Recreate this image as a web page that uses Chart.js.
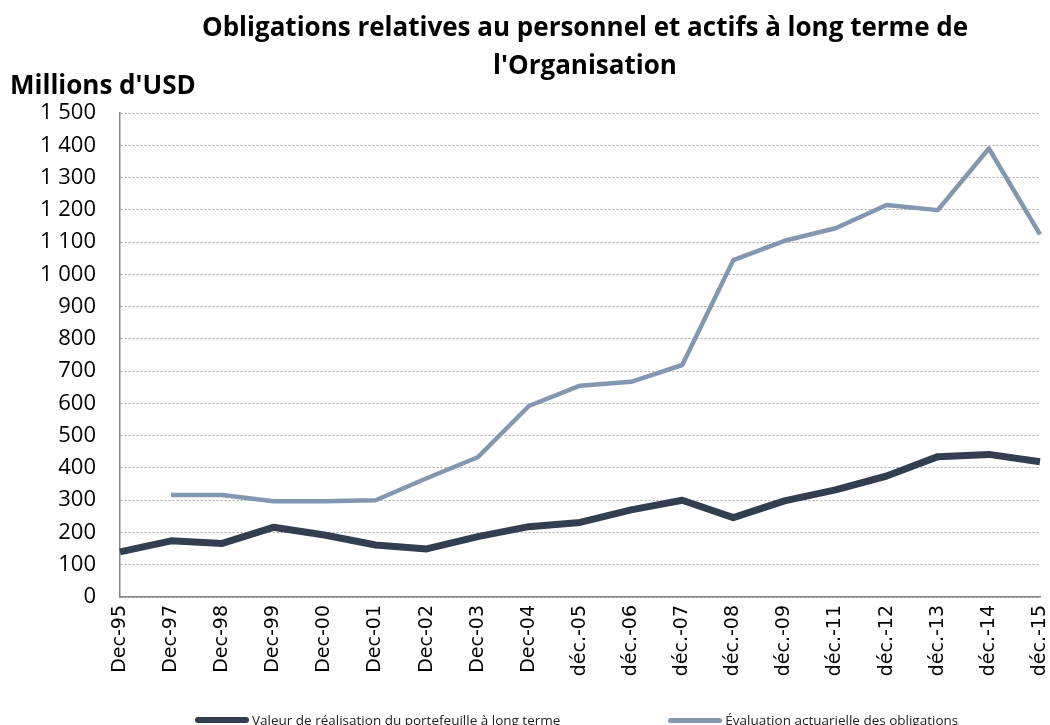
<!DOCTYPE html>
<html>
<head>
<meta charset="utf-8">
<script src="https://cdn.jsdelivr.net/npm/chart.js@4"></script>
<style>
  html, body { margin: 0; padding: 0; background: #fff; }
  #wrap { position: relative; width: 1050px; height: 725px; overflow: hidden; }
  #legend { position: absolute; left: 195px; top: 711px; display: flex; gap: 108px; white-space: nowrap;
            font: 13.5px/18px "Open Sans", sans-serif; color: #222; }
  .item { display: flex; align-items: center; flex: none; }
  .swatch { display: inline-block; width: 54px; border-radius: 3px; margin-right: 3px; }
</style>
</head>
<body>
<div id="wrap">
  <canvas id="myChart"></canvas>
  <div id="legend"></div>
</div>
<script>
const categories = ['Dec-95', 'Dec-97', 'Dec-98', 'Dec-99', 'Dec-00', 'Dec-01', 'Dec-02', 'Dec-03', 'Dec-04',
    'déc.-05', 'déc.-06', 'déc.-07', 'déc.-08', 'déc.-09', 'déc.-11', 'déc.-12', 'déc.-13', 'déc.-14', 'déc.-15'];
const portefeuille = [140, 174, 166, 216, 192, 161, 149, 187, 218, 231, 270, 300, 246, 298, 332, 375, 435, 442, 419];
const obligations = [null, 316, 316, 297, 297, 300, 368, 433, 592, 655, 667, 719, 1044, 1104, 1143, 1215, 1199, 1390, 1124];
const seriesNames = ['Valeur de réalisation du portefeuille à long terme', 'Évaluation actuarielle des obligations'];
const seriesColors = ['#333f50', '#8497b0'];
const titleLines = ['Obligations relatives au personnel et actifs à long terme de', "l'Organisation"];
const unitLabel = "Millions d'USD";

const canvas = document.getElementById('myChart');
canvas.width = 1050; canvas.height = 725;

// texts above the plot
const textPlugin = {
    id: 'texts',
    afterDraw(chart) {
        const ctx = chart.ctx;
        ctx.save();
        ctx.fillStyle = '#000';
        ctx.textBaseline = 'middle';
        ctx.textAlign = 'center';
        ctx.font = 'bold 26px "Open Sans", sans-serif';
        ctx.fillText(titleLines[0], 585, 29);
        ctx.fillText(titleLines[1], 585, 67);
        ctx.textAlign = 'left';
        ctx.fillText(unitLabel, 10, 87);
        ctx.restore();
    }
};

var myChart = new Chart(canvas.getContext('2d'), {
    type: 'line',
    data: {
        labels: categories,
        datasets: [
            {
                label: seriesNames[0],
                data: portefeuille,
                borderColor: seriesColors[0],
                borderWidth: 7,
                borderJoinStyle: 'round',
                pointRadius: 0,
                tension: 0
            },
            {
                label: seriesNames[1],
                data: obligations,
                borderColor: seriesColors[1],
                borderWidth: 4.5,
                borderJoinStyle: 'round',
                pointRadius: 0,
                tension: 0
            }
        ]
    },
    options: {
        responsive: false,
        animation: false,
        layout: { padding: { top: 113, right: 10, bottom: 0, left: 0 } },
        plugins: {
            legend: { display: false },
            tooltip: { enabled: false }
        },
        scales: {
            x: {
                offset: false,
                grid: { display: false, drawTicks: false },
                border: { display: true, color: '#868686', width: 1.5 },
                ticks: {
                    autoSkip: false,
                    maxRotation: 90,
                    minRotation: 90,
                    padding: 8,
                    color: '#000',
                    font: { family: '"DejaVu Sans"', size: 19 }
                },
                afterFit(scale) {
                    scale.height = 128;
                    scale.paddingLeft = 0;
                    scale.paddingRight = 0;
                }
            },
            y: {
                min: 0,
                max: 1500,
                grid: { color: '#a6a6a6', lineWidth: 1, drawTicks: false },
                border: { display: true, color: '#868686', width: 1.5, dash: [2, 2] },
                ticks: {
                    stepSize: 100,
                    padding: 24,
                    color: '#000',
                    font: { family: '"Open Sans"', size: 22 },
                    callback: (v) => String(v).replace(/\B(?=(\d{3})+(?!\d))/g, ' ')
                },
                afterFit(scale) { scale.width = 120; }
            }
        }
    },
    plugins: [textPlugin]
});

// legend below the chart
const legend = document.getElementById('legend');
seriesNames.forEach((name, i) => {
    const item = document.createElement('span');
    item.className = 'item';
    const sw = document.createElement('span');
    sw.className = 'swatch';
    sw.style.background = seriesColors[i];
    sw.style.height = (i === 0 ? 6 : 5) + 'px';
    item.appendChild(sw);
    item.appendChild(document.createTextNode(name));
    legend.appendChild(item);
});
</script>
</body>
</html>
